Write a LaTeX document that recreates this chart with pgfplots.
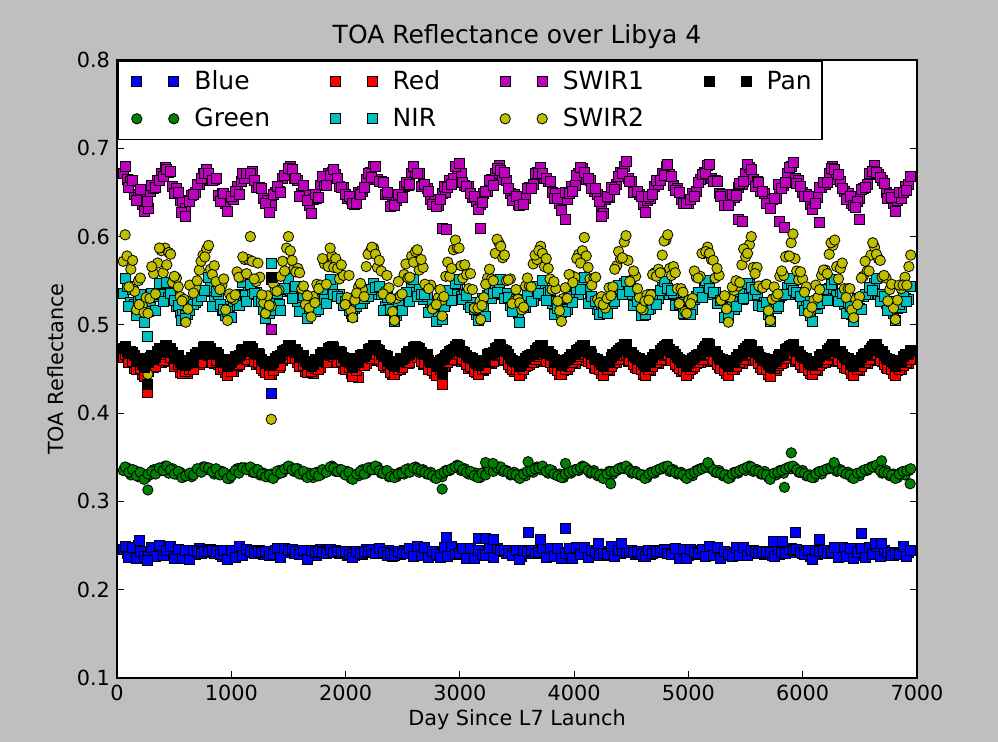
\documentclass[border=0pt]{standalone}
\usepackage{fontspec}
\setmainfont{DejaVu Sans}
\usepackage{pgfplots}
\usepackage{pgfplotstable}
\pgfplotsset{compat=1.18}
\definecolor{figgray}{RGB}{191,191,191}
\definecolor{mb}{rgb}{0,0,1}
\definecolor{mg}{rgb}{0,0.5,0}
\definecolor{mr}{rgb}{1,0,0}
\definecolor{mc}{rgb}{0,0.75,0.75}
\definecolor{mm}{rgb}{0.75,0,0.75}
\definecolor{my}{rgb}{0.75,0.75,0}
\pgfplotsset{
  sq/.style={only marks, mark=square*, mark size=2.5pt, mark options={fill=#1, draw=black, line width=0.4pt}},
  ci/.style={only marks, mark=*, mark size=2.6pt, mark options={fill=#1, draw=black, line width=0.4pt}},
  twomarks/.style={legend image code/.code={\path[draw=none, fill=none] (-6.5pt,0pt) -- (21.2pt,0pt); \path[##1, draw=none] plot coordinates {(0pt,0pt) (18.5pt,0pt)};}},
}
\pgfplotstableread{
x B G R N S1 S2 P
55 0.246 0.335 0.463 0.536 0.671 0.572 0.473
88 0.241 0.338 0.464 0.543 0.665 0.578 0.470
121 0.246 0.330 0.457 0.525 0.663 0.563 0.470
155 0.241 0.335 0.451 0.523 0.648 0.538 0.465
188 0.250 0.328 0.449 0.530 0.644 0.550 0.462
221 0.238 0.331 0.444 0.513 0.636 0.522 0.455
255 0.239 0.327 0.448 0.520 0.643 0.531 0.459
288 0.243 0.330 0.453 0.520 0.651 0.530 0.463
321 0.245 0.336 0.452 0.532 0.654 0.558 0.461
355 0.240 0.335 0.460 0.535 0.664 0.570 0.470
388 0.244 0.335 0.458 0.534 0.672 0.584 0.472
420 0.243 0.340 0.467 0.547 0.678 0.587 0.477
453 0.245 0.332 0.459 0.531 0.673 0.582 0.469
486 0.240 0.337 0.459 0.536 0.657 0.548 0.469
520 0.243 0.331 0.456 0.521 0.655 0.553 0.463
553 0.242 0.333 0.446 0.514 0.641 0.532 0.458
586 0.242 0.328 0.449 0.519 0.633 0.529 0.458
620 0.237 0.330 0.445 0.512 0.641 0.518 0.456
653 0.244 0.328 0.451 0.527 0.647 0.544 0.463
686 0.240 0.334 0.457 0.525 0.650 0.542 0.466
720 0.247 0.336 0.455 0.538 0.659 0.562 0.466
753 0.242 0.339 0.462 0.539 0.671 0.579 0.474
785 0.245 0.336 0.464 0.538 0.676 0.586 0.474
818 0.246 0.337 0.464 0.542 0.664 0.563 0.473
851 0.241 0.331 0.456 0.528 0.665 0.567 0.467
885 0.244 0.331 0.455 0.534 0.647 0.544 0.467
918 0.238 0.334 0.452 0.516 0.649 0.545 0.458
951 0.241 0.331 0.446 0.511 0.637 0.517 0.458
985 0.238 0.326 0.450 0.521 0.644 0.535 0.455
1018 0.243 0.332 0.447 0.525 0.642 0.529 0.461
1051 0.245 0.337 0.453 0.522 0.657 0.560 0.462
1085 0.242 0.338 0.461 0.534 0.663 0.554 0.471
1118 0.245 0.338 0.459 0.533 0.666 0.574 0.470
1150 0.242 0.337 0.468 0.545 0.672 0.574 0.476
1184 0.244 0.333 0.460 0.535 0.674 0.572 0.473
1217 0.241 0.336 0.455 0.537 0.656 0.549 0.466
1250 0.244 0.330 0.456 0.529 0.656 0.554 0.466
1284 0.240 0.332 0.448 0.517 0.643 0.525 0.459
1317 0.242 0.328 0.448 0.514 0.641 0.533 0.459
1350 0.239 0.331 0.444 0.523 0.635 0.521 0.456
1384 0.244 0.329 0.453 0.524 0.650 0.539 0.462
1417 0.240 0.335 0.452 0.523 0.651 0.539 0.462
1450 0.245 0.333 0.460 0.538 0.666 0.572 0.470
1484 0.242 0.337 0.463 0.540 0.669 0.587 0.472
1516 0.246 0.339 0.462 0.539 0.680 0.584 0.477
1549 0.241 0.334 0.462 0.541 0.666 0.564 0.469
1582 0.244 0.337 0.457 0.526 0.664 0.564 0.469
1616 0.241 0.332 0.457 0.531 0.649 0.541 0.465
1649 0.243 0.329 0.447 0.515 0.648 0.523 0.459
1682 0.239 0.332 0.449 0.512 0.635 0.519 0.459
1716 0.243 0.327 0.445 0.522 0.642 0.532 0.455
1749 0.239 0.333 0.452 0.519 0.643 0.546 0.461
1782 0.246 0.330 0.452 0.533 0.658 0.545 0.467
1816 0.241 0.335 0.459 0.529 0.658 0.569 0.467
1849 0.244 0.335 0.464 0.543 0.672 0.566 0.473
1881 0.243 0.340 0.466 0.544 0.673 0.578 0.476
1914 0.245 0.334 0.459 0.532 0.670 0.575 0.470
1947 0.241 0.336 0.460 0.535 0.657 0.552 0.470
1981 0.243 0.332 0.451 0.522 0.656 0.556 0.463
2014 0.239 0.334 0.451 0.526 0.643 0.531 0.462
2047 0.242 0.326 0.445 0.513 0.642 0.516 0.456
2081 0.239 0.330 0.450 0.519 0.636 0.528 0.458
2114 0.242 0.329 0.441 0.528 0.650 0.543 0.458
2147 0.240 0.336 0.456 0.524 0.651 0.540 0.466
2181 0.246 0.332 0.456 0.537 0.665 0.566 0.466
2214 0.242 0.338 0.462 0.535 0.673 0.583 0.473
2246 0.246 0.336 0.467 0.547 0.679 0.587 0.477
2279 0.241 0.339 0.460 0.534 0.665 0.565 0.472
2312 0.245 0.332 0.459 0.534 0.663 0.561 0.466
2346 0.241 0.334 0.452 0.521 0.648 0.538 0.465
2379 0.244 0.328 0.452 0.518 0.648 0.542 0.459
2412 0.238 0.331 0.444 0.520 0.636 0.515 0.455
2446 0.241 0.328 0.448 0.511 0.641 0.530 0.459
2479 0.240 0.333 0.449 0.527 0.644 0.533 0.462
2512 0.244 0.331 0.457 0.529 0.657 0.557 0.462
2546 0.242 0.337 0.456 0.527 0.658 0.553 0.470
2579 0.245 0.335 0.463 0.541 0.671 0.578 0.470
2612 0.242 0.339 0.463 0.537 0.672 0.583 0.476
2645 0.245 0.333 0.463 0.540 0.672 0.562 0.473
2678 0.242 0.336 0.455 0.529 0.659 0.565 0.467
2712 0.243 0.331 0.455 0.532 0.655 0.543 0.466
2745 0.239 0.333 0.452 0.517 0.642 0.545 0.458
2778 0.243 0.327 0.445 0.514 0.642 0.520 0.458
2812 0.239 0.330 0.448 0.521 0.635 0.531 0.456
2845 0.242 0.328 0.448 0.524 0.649 0.528 0.461
2877 0.240 0.335 0.453 0.525 0.650 0.555 0.465
2911 0.246 0.335 0.460 0.536 0.664 0.555 0.470
2944 0.242 0.338 0.460 0.539 0.666 0.585 0.472
2977 0.245 0.341 0.468 0.546 0.677 0.587 0.478
3010 0.241 0.335 0.459 0.532 0.671 0.567 0.470
3043 0.245 0.337 0.459 0.535 0.658 0.568 0.469
3077 0.241 0.331 0.451 0.523 0.657 0.541 0.463
3110 0.243 0.332 0.452 0.525 0.644 0.540 0.462
3143 0.239 0.332 0.446 0.512 0.640 0.518 0.456
3177 0.242 0.327 0.449 0.519 0.636 0.527 0.459
3210 0.239 0.333 0.448 0.519 0.649 0.531 0.459
3243 0.244 0.336 0.456 0.533 0.651 0.553 0.466
3277 0.242 0.336 0.456 0.530 0.665 0.552 0.467
3310 0.245 0.338 0.463 0.541 0.671 0.581 0.473
3342 0.243 0.339 0.467 0.548 0.681 0.593 0.478
3375 0.244 0.334 0.460 0.534 0.665 0.576 0.472
3408 0.241 0.335 0.460 0.536 0.664 0.550 0.470
3442 0.244 0.330 0.452 0.522 0.649 0.552 0.462
3475 0.240 0.333 0.447 0.525 0.648 0.527 0.459
3508 0.241 0.328 0.449 0.513 0.636 0.529 0.458
3542 0.238 0.331 0.445 0.520 0.643 0.517 0.455
3575 0.243 0.329 0.453 0.520 0.643 0.544 0.462
3608 0.241 0.335 0.455 0.531 0.656 0.544 0.465
3642 0.245 0.333 0.457 0.528 0.659 0.569 0.467
3675 0.242 0.339 0.463 0.542 0.673 0.574 0.473
3707 0.246 0.336 0.466 0.544 0.678 0.589 0.477
3740 0.241 0.337 0.459 0.533 0.666 0.566 0.469
3773 0.244 0.332 0.460 0.537 0.663 0.564 0.470
3807 0.240 0.335 0.453 0.524 0.650 0.540 0.465
3840 0.243 0.330 0.452 0.526 0.649 0.541 0.458
3873 0.239 0.331 0.444 0.512 0.637 0.516 0.458
3907 0.242 0.327 0.448 0.519 0.642 0.530 0.456
3940 0.240 0.333 0.449 0.518 0.642 0.530 0.461
3973 0.245 0.332 0.457 0.532 0.657 0.556 0.466
4007 0.241 0.336 0.456 0.534 0.658 0.554 0.467
4040 0.245 0.335 0.462 0.535 0.672 0.580 0.472
4073 0.243 0.340 0.467 0.546 0.677 0.584 0.477
4106 0.244 0.337 0.460 0.540 0.665 0.578 0.470
4139 0.242 0.332 0.460 0.528 0.664 0.552 0.470
4173 0.244 0.335 0.452 0.529 0.651 0.553 0.462
4206 0.239 0.329 0.451 0.517 0.648 0.529 0.461
4239 0.241 0.331 0.445 0.520 0.635 0.532 0.455
4273 0.239 0.328 0.449 0.514 0.642 0.519 0.459
4306 0.243 0.334 0.448 0.526 0.644 0.542 0.459
4339 0.241 0.331 0.456 0.524 0.656 0.543 0.466
4373 0.245 0.335 0.457 0.537 0.659 0.567 0.469
4406 0.241 0.338 0.463 0.540 0.673 0.575 0.473
4438 0.245 0.337 0.468 0.547 0.680 0.594 0.478
4471 0.242 0.338 0.459 0.535 0.666 0.573 0.469
4504 0.245 0.332 0.459 0.535 0.663 0.551 0.469
4538 0.240 0.334 0.452 0.523 0.650 0.555 0.463
4571 0.242 0.330 0.452 0.527 0.648 0.531 0.462
4604 0.238 0.330 0.444 0.511 0.636 0.517 0.455
4638 0.242 0.327 0.448 0.520 0.641 0.534 0.458
4671 0.240 0.333 0.448 0.519 0.643 0.534 0.459
4704 0.244 0.332 0.456 0.531 0.657 0.559 0.466
4738 0.242 0.336 0.456 0.530 0.659 0.563 0.466
4771 0.245 0.337 0.463 0.542 0.671 0.579 0.473
4803 0.242 0.339 0.466 0.545 0.679 0.596 0.477
4836 0.245 0.334 0.460 0.534 0.670 0.564 0.472
4869 0.242 0.336 0.460 0.536 0.658 0.566 0.470
4903 0.243 0.331 0.453 0.523 0.655 0.541 0.463
4936 0.239 0.333 0.447 0.525 0.642 0.541 0.458
4969 0.242 0.328 0.449 0.512 0.641 0.515 0.458
5003 0.239 0.331 0.445 0.519 0.637 0.528 0.456
5036 0.243 0.329 0.451 0.518 0.649 0.530 0.462
5069 0.240 0.335 0.456 0.532 0.651 0.554 0.465
5103 0.244 0.337 0.457 0.535 0.665 0.555 0.467
5136 0.242 0.338 0.463 0.541 0.673 0.581 0.473
5168 0.245 0.341 0.467 0.548 0.681 0.588 0.479
5201 0.241 0.337 0.459 0.535 0.666 0.574 0.470
5234 0.245 0.333 0.459 0.537 0.664 0.553 0.470
5268 0.241 0.335 0.452 0.524 0.649 0.556 0.462
5301 0.243 0.329 0.452 0.526 0.648 0.530 0.461
5334 0.239 0.330 0.445 0.513 0.636 0.518 0.456
5368 0.242 0.327 0.449 0.520 0.641 0.531 0.459
5401 0.239 0.333 0.449 0.518 0.644 0.539 0.459
5434 0.244 0.332 0.457 0.532 0.656 0.544 0.466
5468 0.242 0.336 0.456 0.529 0.659 0.568 0.467
5501 0.245 0.335 0.463 0.540 0.671 0.577 0.473
5534 0.243 0.340 0.468 0.546 0.678 0.591 0.478
5567 0.245 0.334 0.460 0.533 0.665 0.565 0.470
5600 0.241 0.336 0.460 0.535 0.663 0.565 0.470
5634 0.243 0.331 0.452 0.522 0.651 0.542 0.463
5667 0.240 0.334 0.451 0.525 0.649 0.545 0.462
5700 0.243 0.327 0.444 0.512 0.637 0.516 0.455
5734 0.239 0.331 0.449 0.519 0.642 0.529 0.458
5767 0.243 0.330 0.448 0.519 0.643 0.532 0.459
5800 0.240 0.335 0.456 0.531 0.655 0.555 0.466
5834 0.244 0.332 0.457 0.534 0.658 0.556 0.466
5867 0.242 0.338 0.463 0.542 0.672 0.578 0.473
5899 0.247 0.337 0.466 0.547 0.679 0.593 0.477
5932 0.242 0.338 0.459 0.534 0.666 0.575 0.470
5965 0.245 0.333 0.460 0.536 0.664 0.551 0.470
5999 0.241 0.335 0.452 0.524 0.650 0.552 0.463
6032 0.243 0.329 0.452 0.527 0.648 0.543 0.462
6065 0.238 0.330 0.445 0.511 0.636 0.514 0.455
6099 0.241 0.327 0.449 0.519 0.641 0.528 0.458
6132 0.240 0.333 0.448 0.519 0.644 0.531 0.459
6165 0.244 0.331 0.456 0.531 0.656 0.556 0.466
6199 0.241 0.336 0.457 0.530 0.659 0.562 0.467
6232 0.244 0.337 0.463 0.541 0.671 0.580 0.473
6264 0.243 0.340 0.467 0.546 0.680 0.590 0.478
6297 0.245 0.334 0.459 0.533 0.665 0.566 0.470
6330 0.242 0.336 0.460 0.536 0.663 0.564 0.470
6364 0.244 0.332 0.452 0.523 0.651 0.541 0.463
6397 0.239 0.333 0.451 0.525 0.649 0.541 0.462
6430 0.242 0.327 0.445 0.512 0.637 0.517 0.455
6464 0.239 0.331 0.449 0.520 0.642 0.529 0.458
6497 0.243 0.329 0.448 0.519 0.643 0.532 0.459
6530 0.241 0.335 0.456 0.532 0.655 0.555 0.466
6564 0.245 0.335 0.456 0.534 0.659 0.561 0.467
6597 0.242 0.339 0.463 0.541 0.672 0.579 0.473
6629 0.245 0.340 0.468 0.547 0.681 0.588 0.478
6662 0.241 0.337 0.460 0.535 0.670 0.575 0.472
6695 0.245 0.332 0.459 0.535 0.664 0.554 0.470
6729 0.240 0.335 0.452 0.524 0.650 0.553 0.462
6762 0.242 0.329 0.452 0.526 0.648 0.540 0.461
6795 0.239 0.331 0.445 0.513 0.637 0.519 0.456
6829 0.242 0.327 0.448 0.519 0.641 0.528 0.459
6862 0.240 0.333 0.449 0.520 0.643 0.541 0.459
6895 0.244 0.330 0.456 0.530 0.657 0.554 0.466
6929 0.242 0.335 0.456 0.529 0.659 0.566 0.466
71 0.249 0.339 0.466 0.553 0.680 0.602 0.476
104 0.237 0.333 0.458 0.521 0.656 0.543 0.468
137 0.248 0.336 0.459 0.540 0.664 0.573 0.469
171 0.235 0.329 0.449 0.511 0.641 0.517 0.459
204 0.243 0.333 0.451 0.534 0.653 0.553 0.462
237 0.238 0.325 0.442 0.503 0.628 0.514 0.452
271 0.238 0.331 0.447 0.515 0.632 0.513 0.457
304 0.248 0.334 0.455 0.536 0.658 0.566 0.465
337 0.238 0.331 0.453 0.516 0.656 0.535 0.463
371 0.250 0.338 0.463 0.547 0.664 0.587 0.473
404 0.239 0.335 0.460 0.526 0.668 0.559 0.470
436 0.244 0.340 0.467 0.548 0.676 0.568 0.477
469 0.249 0.336 0.463 0.536 0.674 0.580 0.473
502 0.235 0.331 0.453 0.528 0.649 0.555 0.462
536 0.246 0.334 0.455 0.522 0.650 0.543 0.465
569 0.236 0.327 0.445 0.512 0.639 0.527 0.455
602 0.245 0.329 0.447 0.511 0.632 0.503 0.454
636 0.234 0.332 0.450 0.516 0.640 0.545 0.460
669 0.244 0.330 0.449 0.523 0.648 0.536 0.458
702 0.243 0.337 0.459 0.528 0.659 0.550 0.469
736 0.241 0.333 0.457 0.532 0.666 0.572 0.466
769 0.243 0.339 0.466 0.539 0.672 0.577 0.476
801 0.243 0.338 0.465 0.554 0.671 0.590 0.476
834 0.245 0.334 0.458 0.521 0.664 0.557 0.467
867 0.243 0.337 0.460 0.538 0.666 0.549 0.469
901 0.240 0.330 0.449 0.523 0.640 0.540 0.458
934 0.245 0.333 0.452 0.518 0.649 0.552 0.461
967 0.234 0.326 0.443 0.515 0.629 0.505 0.453
1001 0.245 0.329 0.447 0.508 0.646 0.531 0.457
1034 0.237 0.335 0.454 0.532 0.651 0.534 0.464
1067 0.249 0.332 0.455 0.522 0.648 0.554 0.465
1101 0.239 0.338 0.463 0.548 0.672 0.577 0.472
1134 0.246 0.336 0.461 0.527 0.672 0.558 0.471
1167 0.243 0.339 0.466 0.546 0.671 0.600 0.476
1200 0.241 0.333 0.459 0.536 0.664 0.552 0.468
1233 0.243 0.336 0.457 0.526 0.656 0.570 0.468
1267 0.242 0.331 0.451 0.527 0.654 0.534 0.461
1300 0.243 0.328 0.446 0.507 0.637 0.513 0.456
1333 0.239 0.330 0.444 0.513 0.627 0.522 0.454
1367 0.240 0.326 0.448 0.516 0.648 0.547 0.458
1400 0.247 0.334 0.455 0.536 0.657 0.538 0.464
1433 0.237 0.332 0.454 0.516 0.650 0.555 0.465
1467 0.247 0.337 0.462 0.541 0.669 0.561 0.471
1500 0.245 0.340 0.467 0.553 0.677 0.600 0.477
1532 0.246 0.336 0.462 0.530 0.676 0.573 0.472
1565 0.243 0.337 0.462 0.544 0.666 0.560 0.472
1598 0.240 0.331 0.453 0.515 0.645 0.559 0.463
1632 0.245 0.334 0.454 0.533 0.658 0.544 0.465
1665 0.234 0.327 0.446 0.507 0.641 0.533 0.455
1698 0.244 0.330 0.447 0.521 0.626 0.509 0.453
1732 0.242 0.332 0.451 0.515 0.648 0.525 0.461
1765 0.243 0.329 0.449 0.518 0.644 0.541 0.459
1798 0.242 0.336 0.459 0.540 0.668 0.575 0.469
1832 0.241 0.333 0.457 0.524 0.658 0.546 0.466
1865 0.246 0.339 0.465 0.551 0.669 0.587 0.475
1897 0.242 0.338 0.464 0.535 0.676 0.565 0.474
1930 0.243 0.334 0.458 0.532 0.666 0.564 0.467
1963 0.242 0.336 0.459 0.530 0.656 0.568 0.469
1997 0.243 0.330 0.450 0.526 0.648 0.523 0.459
2030 0.240 0.333 0.452 0.516 0.645 0.556 0.462
2063 0.237 0.325 0.442 0.510 0.637 0.508 0.452
2097 0.243 0.331 0.448 0.521 0.638 0.536 0.457
2130 0.241 0.334 0.455 0.524 0.648 0.547 0.465
2163 0.243 0.331 0.454 0.530 0.656 0.532 0.464
2197 0.243 0.338 0.463 0.532 0.672 0.580 0.472
2230 0.246 0.336 0.462 0.540 0.667 0.588 0.473
2262 0.241 0.340 0.466 0.542 0.679 0.580 0.477
2295 0.247 0.335 0.461 0.544 0.663 0.573 0.471
2328 0.242 0.332 0.454 0.516 0.661 0.535 0.464
2362 0.239 0.335 0.455 0.531 0.650 0.556 0.464
2395 0.241 0.328 0.446 0.518 0.634 0.530 0.456
2428 0.239 0.327 0.444 0.504 0.635 0.505 0.453
2462 0.243 0.331 0.450 0.527 0.648 0.549 0.459
2495 0.241 0.332 0.452 0.516 0.644 0.535 0.461
2528 0.241 0.336 0.458 0.537 0.661 0.569 0.468
2562 0.247 0.333 0.458 0.526 0.659 0.554 0.467
2595 0.238 0.338 0.465 0.552 0.679 0.571 0.475
2628 0.249 0.337 0.463 0.532 0.672 0.585 0.474
2661 0.239 0.335 0.459 0.534 0.657 0.574 0.469
2694 0.248 0.333 0.456 0.535 0.659 0.546 0.466
2728 0.237 0.331 0.450 0.514 0.651 0.541 0.460
2761 0.243 0.329 0.448 0.523 0.636 0.518 0.458
2794 0.240 0.326 0.443 0.504 0.634 0.523 0.453
2828 0.237 0.331 0.450 0.525 0.642 0.540 0.460
2861 0.248 0.333 0.453 0.521 0.657 0.532 0.462
2894 0.238 0.335 0.457 0.539 0.656 0.571 0.467
2928 0.249 0.337 0.461 0.528 0.659 0.564 0.471
2961 0.240 0.339 0.466 0.547 0.679 0.596 0.476
2993 0.241 0.340 0.467 0.552 0.683 0.587 0.477
3026 0.247 0.336 0.461 0.529 0.661 0.553 0.470
3059 0.236 0.333 0.455 0.533 0.657 0.557 0.465
3093 0.247 0.334 0.453 0.520 0.649 0.558 0.463
3126 0.236 0.329 0.447 0.518 0.646 0.519 0.457
3159 0.245 0.327 0.444 0.505 0.631 0.519 0.454
3193 0.240 0.332 0.450 0.530 0.639 0.522 0.460
3226 0.239 0.330 0.451 0.510 0.651 0.546 0.460
3259 0.247 0.336 0.458 0.536 0.664 0.563 0.468
3293 0.237 0.334 0.459 0.536 0.658 0.550 0.469
3326 0.247 0.338 0.465 0.537 0.677 0.597 0.475
3358 0.244 0.339 0.466 0.552 0.675 0.589 0.477
3391 0.245 0.335 0.461 0.530 0.673 0.579 0.471
3424 0.241 0.333 0.455 0.531 0.654 0.551 0.466
3458 0.239 0.331 0.450 0.515 0.641 0.524 0.460
3491 0.245 0.330 0.449 0.529 0.646 0.540 0.459
3524 0.234 0.326 0.443 0.503 0.635 0.525 0.453
3558 0.244 0.331 0.449 0.520 0.636 0.520 0.458
3591 0.243 0.334 0.454 0.533 0.654 0.553 0.464
3624 0.244 0.335 0.457 0.526 0.655 0.543 0.467
3658 0.241 0.337 0.461 0.544 0.672 0.579 0.471
3691 0.242 0.338 0.464 0.536 0.672 0.584 0.475
3723 0.247 0.340 0.466 0.550 0.672 0.581 0.477
3756 0.237 0.334 0.459 0.528 0.666 0.575 0.468
3789 0.247 0.336 0.457 0.539 0.662 0.552 0.467
3823 0.238 0.331 0.451 0.512 0.643 0.549 0.461
3856 0.247 0.329 0.448 0.519 0.643 0.527 0.458
3889 0.235 0.327 0.444 0.514 0.630 0.504 0.454
3923 0.241 0.331 0.450 0.515 0.650 0.542 0.460
3956 0.247 0.333 0.453 0.532 0.649 0.557 0.463
3989 0.236 0.335 0.457 0.525 0.651 0.548 0.467
4023 0.248 0.336 0.461 0.540 0.669 0.575 0.471
4056 0.240 0.338 0.464 0.540 0.678 0.570 0.475
4089 0.248 0.339 0.466 0.554 0.673 0.599 0.477
4122 0.237 0.335 0.459 0.524 0.666 0.565 0.469
4155 0.245 0.333 0.456 0.532 0.654 0.545 0.466
4189 0.242 0.332 0.451 0.526 0.655 0.554 0.461
4222 0.239 0.330 0.449 0.512 0.640 0.525 0.459
4255 0.241 0.326 0.443 0.514 0.626 0.523 0.453
4289 0.240 0.331 0.450 0.513 0.646 0.530 0.459
4322 0.249 0.334 0.453 0.530 0.656 0.533 0.463
4355 0.238 0.334 0.457 0.527 0.653 0.563 0.467
4389 0.244 0.337 0.461 0.545 0.668 0.583 0.471
4422 0.244 0.338 0.465 0.534 0.672 0.576 0.475
4454 0.242 0.340 0.466 0.549 0.685 0.601 0.478
4487 0.244 0.335 0.460 0.538 0.662 0.549 0.469
4520 0.242 0.333 0.455 0.522 0.650 0.561 0.465
4554 0.243 0.332 0.451 0.527 0.651 0.541 0.461
4587 0.240 0.330 0.449 0.511 0.646 0.519 0.459
4620 0.238 0.326 0.443 0.512 0.627 0.527 0.453
4654 0.244 0.331 0.450 0.517 0.646 0.528 0.460
4687 0.241 0.333 0.453 0.534 0.648 0.557 0.463
4720 0.243 0.335 0.457 0.523 0.664 0.555 0.467
4754 0.243 0.337 0.461 0.539 0.664 0.559 0.471
4787 0.246 0.339 0.465 0.549 0.669 0.595 0.476
4819 0.241 0.340 0.467 0.541 0.682 0.602 0.478
4852 0.240 0.335 0.460 0.539 0.668 0.556 0.469
4885 0.247 0.333 0.455 0.522 0.652 0.559 0.466
4919 0.236 0.332 0.451 0.523 0.650 0.524 0.461
4952 0.246 0.330 0.448 0.513 0.638 0.537 0.458
4985 0.236 0.326 0.443 0.516 0.638 0.513 0.453
5019 0.246 0.331 0.450 0.512 0.642 0.524 0.460
5052 0.242 0.333 0.453 0.529 0.646 0.561 0.463
5085 0.241 0.335 0.457 0.537 0.661 0.553 0.467
5119 0.246 0.337 0.461 0.531 0.670 0.581 0.471
5152 0.238 0.339 0.465 0.550 0.671 0.583 0.476
5184 0.249 0.341 0.467 0.541 0.682 0.581 0.478
5217 0.239 0.336 0.460 0.537 0.662 0.573 0.470
5250 0.248 0.333 0.455 0.524 0.662 0.564 0.465
5284 0.236 0.332 0.451 0.528 0.646 0.528 0.461
5317 0.243 0.330 0.448 0.508 0.635 0.533 0.458
5350 0.240 0.326 0.443 0.510 0.635 0.503 0.453
5384 0.238 0.331 0.450 0.526 0.648 0.543 0.460
5417 0.248 0.333 0.453 0.521 0.647 0.550 0.463
5450 0.239 0.335 0.457 0.538 0.660 0.548 0.467
5484 0.248 0.337 0.461 0.530 0.663 0.586 0.471
5517 0.239 0.339 0.465 0.547 0.682 0.581 0.476
5550 0.245 0.339 0.466 0.542 0.676 0.600 0.477
5583 0.243 0.335 0.460 0.540 0.657 0.558 0.469
5616 0.241 0.334 0.456 0.522 0.661 0.544 0.467
5650 0.243 0.331 0.450 0.521 0.651 0.542 0.460
5683 0.242 0.330 0.449 0.525 0.638 0.546 0.459
5716 0.242 0.325 0.442 0.504 0.632 0.505 0.452
5750 0.238 0.332 0.451 0.529 0.643 0.543 0.461
5783 0.246 0.333 0.454 0.521 0.659 0.535 0.464
5816 0.242 0.335 0.456 0.533 0.654 0.561 0.466
5850 0.241 0.337 0.462 0.534 0.661 0.577 0.472
5883 0.246 0.339 0.465 0.553 0.678 0.578 0.476
5915 0.245 0.340 0.467 0.539 0.684 0.603 0.478
5948 0.246 0.336 0.461 0.537 0.660 0.561 0.470
5981 0.242 0.333 0.455 0.532 0.657 0.560 0.465
6015 0.240 0.332 0.452 0.516 0.646 0.537 0.462
6048 0.245 0.329 0.448 0.522 0.646 0.514 0.457
6081 0.234 0.327 0.444 0.504 0.631 0.520 0.454
6115 0.245 0.331 0.450 0.523 0.637 0.545 0.459
6148 0.243 0.334 0.454 0.524 0.656 0.540 0.464
6181 0.244 0.335 0.457 0.540 0.661 0.562 0.467
6215 0.241 0.337 0.461 0.528 0.661 0.558 0.471
6248 0.242 0.338 0.465 0.546 0.677 0.593 0.476
6280 0.248 0.341 0.467 0.552 0.676 0.596 0.478
6313 0.237 0.335 0.460 0.527 0.670 0.552 0.469
6346 0.248 0.334 0.456 0.536 0.655 0.570 0.466
6380 0.238 0.331 0.451 0.513 0.642 0.531 0.461
6413 0.247 0.330 0.449 0.521 0.645 0.541 0.459
6446 0.235 0.326 0.443 0.504 0.635 0.508 0.453
6480 0.242 0.332 0.450 0.530 0.640 0.523 0.460
6513 0.247 0.333 0.453 0.517 0.653 0.553 0.463
6546 0.237 0.336 0.457 0.535 0.656 0.572 0.468
6580 0.248 0.337 0.461 0.542 0.672 0.561 0.471
6613 0.240 0.339 0.465 0.539 0.674 0.593 0.476
6645 0.249 0.341 0.467 0.553 0.673 0.580 0.478
6678 0.238 0.335 0.460 0.526 0.667 0.573 0.469
6711 0.245 0.333 0.455 0.532 0.660 0.556 0.465
6745 0.242 0.332 0.451 0.516 0.643 0.527 0.461
6778 0.239 0.330 0.449 0.526 0.644 0.546 0.459
6811 0.241 0.326 0.443 0.505 0.629 0.506 0.453
6845 0.240 0.331 0.450 0.523 0.650 0.545 0.460
6878 0.249 0.334 0.454 0.533 0.650 0.545 0.464
6911 0.238 0.335 0.457 0.526 0.652 0.545 0.467
6945 0.244 0.337 0.461 0.543 0.668 0.579 0.471
194 0.256 nan nan nan nan 0.523 nan
270 0.233 0.313 0.424 0.487 0.640 0.444 0.432
560 nan nan nan 0.505 0.627 nan nan
600 nan nan nan 0.507 0.623 nan nan
1350 0.422 nan 0.551 0.570 0.495 0.393 0.554
2845 nan 0.314 0.432 0.506 0.609 0.510 0.445
2885 0.259 nan nan nan 0.608 nan nan
3160 0.258 nan nan nan nan nan nan
3182 nan nan nan nan 0.609 0.506 nan
3225 0.258 0.344 nan nan nan nan nan
3290 0.257 0.343 nan nan nan nan nan
3597 0.265 0.345 nan nan nan nan nan
3703 0.257 nan nan nan nan nan nan
3924 0.269 0.343 nan nan 0.619 nan nan
4215 0.253 nan nan nan nan nan nan
4235 nan nan nan nan 0.623 nan nan
4320 nan 0.320 nan nan nan nan nan
4410 0.253 nan nan nan nan nan nan
5170 nan 0.344 nan nan nan nan nan
5435 nan nan nan nan 0.620 nan nan
5470 nan nan nan nan 0.617 nan nan
5740 0.255 nan nan nan nan nan nan
5800 nan nan nan nan 0.617 nan nan
5825 0.255 nan nan nan nan nan nan
5840 nan 0.316 nan nan 0.610 nan nan
5900 nan 0.355 nan nan nan nan nan
5940 0.265 nan nan nan nan nan nan
6143 0.257 nan nan nan 0.616 nan nan
6275 0.248 0.344 nan nan nan nan nan
6464 nan nan nan nan 0.633 nan nan
6497 nan nan nan nan 0.620 nan nan
6514 0.264 nan nan nan nan nan nan
6640 0.253 nan nan nan nan nan nan
6690 0.253 0.346 nan nan nan nan nan
6940 nan 0.320 nan nan nan nan nan
}\data
\begin{document}
\begin{tikzpicture}
\fill[figgray] (0,0) rectangle (499pt,371pt);
\begin{axis}[
  at={(58.5pt,32pt)}, anchor=south west,
  scale only axis, width=400pt, height=309pt,
  xmin=0, xmax=7000, ymin=0.1, ymax=0.8,
  xtick={0,1000,2000,3000,4000,5000,6000,7000},
  ytick={0.1,0.2,0.3,0.4,0.5,0.6,0.7,0.8},
  scaled x ticks=false, scaled y ticks=false,
  /pgf/number format/assume math mode=true,
  xticklabel style={/pgf/number format/1000 sep={}},
  yticklabel style={/pgf/number format/.cd, fixed, fixed zerofill, precision=1},
  ticklabel style={font=\fontsize{10.4}{12}\selectfont},
  tick align=inside, major tick length=3.5pt,
  every tick/.style={black, line width=0.45pt},
  axis line style={black, line width=0.8pt},
  axis background/.style={fill=white},
  title={TOA Reflectance over Libya 4},
  title style={font=\fontsize{12.5}{15}\selectfont, at={(axis description cs:0.5,1)}, anchor=base, yshift=2pt},
  xlabel={Day Since L7 Launch},
  xlabel style={font=\fontsize{10.4}{12}\selectfont, at={(axis description cs:0.5,0)}, anchor=base, yshift=-24pt},
  ylabel={TOA Reflectance},
  ylabel style={font=\fontsize{10.4}{12}\selectfont, at={(axis description cs:-0.07625,0.5)}, anchor=center},
  legend columns=4,
  legend cell align=left,
  legend style={at={(axis description cs:0,1)}, anchor=north west, draw=black, line width=0.8pt, fill=white,
    inner xsep=3pt, inner ysep=3pt, row sep=3.6pt, font=\fontsize{12.5}{15}\selectfont,
    /tikz/every odd column/.append style={column sep=5.6pt},
    /tikz/every even column/.append style={column sep=24pt}},
]
\addplot[sq=mb, forget plot] table[x=x, y=B] {\data};
\addplot[ci=mg, forget plot] table[x=x, y=G] {\data};
\addplot[sq=mr, forget plot] table[x=x, y=R] {\data};
\addplot[sq=mc, forget plot] table[x=x, y=N] {\data};
\addplot[sq=mm, forget plot] table[x=x, y=S1] {\data};
\addplot[ci=my, forget plot] table[x=x, y=S2] {\data};
\addplot[sq=black, forget plot] table[x=x, y=P] {\data};
\addlegendimage{sq=mb, twomarks}
\addlegendentry{Blue}
\addlegendimage{sq=mr, twomarks}
\addlegendentry{Red}
\addlegendimage{sq=mm, twomarks}
\addlegendentry{SWIR1}
\addlegendimage{sq=black, twomarks}
\addlegendentry{Pan}
\addlegendimage{ci=mg, twomarks}
\addlegendentry{Green}
\addlegendimage{sq=mc, twomarks}
\addlegendentry{NIR}
\addlegendimage{ci=my, twomarks}
\addlegendentry{SWIR2}
\end{axis}
\pgfresetboundingbox
\useasboundingbox (0,0) rectangle (499pt,371pt);
\end{tikzpicture}
\end{document}
